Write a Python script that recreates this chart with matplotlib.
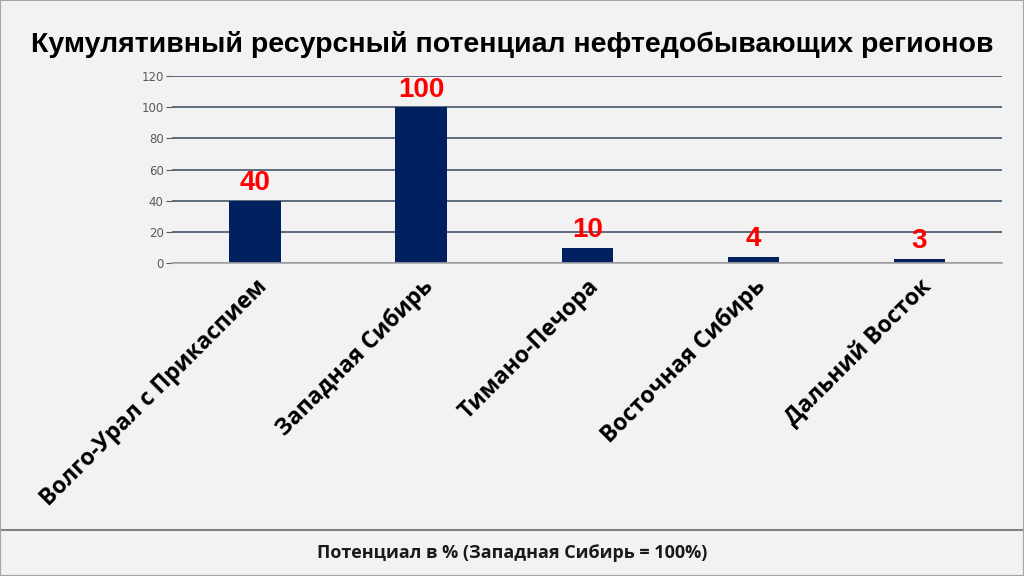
import matplotlib.pyplot as plt
from matplotlib.patches import Rectangle

regions = ["Волго-Урал с Прикаспием", "Западная Сибирь", "Тимано-Печора",
           "Восточная Сибирь", "Дальний Восток"]
potential = [40, 100, 10, 4, 3]
yticks = [0, 20, 40, 60, 80, 100, 120]

title = "Кумулятивный ресурсный потенциал нефтедобывающих регионов"
footer = "Потенциал в % (Западная Сибирь = 100%)"

bg = "#f2f2f2"
navy = "#002060"

fig = plt.figure(figsize=(10.24, 5.76), dpi=100, facecolor=bg)
ax = fig.add_axes([0.168, 0.543, 0.811, 0.325], facecolor=bg)

x = range(len(regions))
ax.bar(x, potential, width=0.31, color=navy, zorder=3)
for xi, v in zip(x, potential):
    ax.text(xi, v + 3, str(v), ha="center", va="bottom", color="#ff0000",
            fontsize=20, fontweight="bold", family="Liberation Sans", zorder=4)

ax.set_xlim(-0.5, len(regions) - 0.5)
ax.set_ylim(0, 120)
ax.set_yticks(yticks)
ax.yaxis.grid(True, color="#44546a", linewidth=1.2, zorder=0)
ax.tick_params(axis="y", labelsize=8.5, labelcolor="#595959", color="#595959",
               length=4, width=0.8, pad=2)
ax.tick_params(axis="x", length=0, pad=8)
for s in ["top", "right", "left"]:
    ax.spines[s].set_visible(False)
ax.spines["bottom"].set_color("#a6a6a6")
ax.spines["bottom"].set_linewidth(1.2)
ax.spines["bottom"].set_zorder(4)

ax.set_xticks(list(x))
ax.set_xticklabels(regions, rotation=45, ha="right", va="top",
                   rotation_mode="anchor", fontsize=16.5, fontweight="bold",
                   family="Open Sans")

fig.text(0.5, 0.923, title, ha="center", va="center", fontsize=20.5,
         fontweight="bold", family="Liberation Sans")

# footer box and frame
fig.patches.append(Rectangle((0.0, 0.0), 1.0, 0.08, transform=fig.transFigure,
                             facecolor=bg, edgecolor="#808080", linewidth=1.5))
fig.patches.append(Rectangle((0.0, 0.0), 1.0, 1.0, transform=fig.transFigure,
                             facecolor="none", edgecolor="#a6a6a6", linewidth=1.5))
fig.text(0.5, 0.04, footer, ha="center", va="center", fontsize=13,
         fontweight="bold", family="Open Sans", color="#1a1a1a")

fig.savefig("out.png", dpi=100, facecolor=bg)
